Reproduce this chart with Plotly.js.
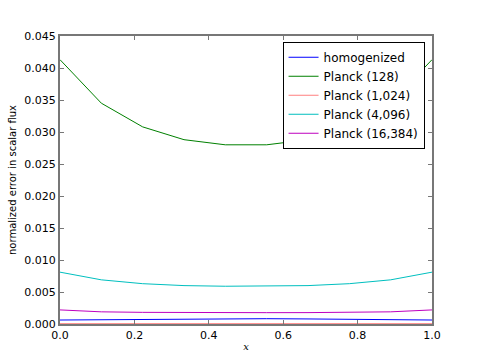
<!DOCTYPE html>
<html>
<head>
<meta charset="utf-8">
<script src="https://cdn.plot.ly/plotly-3.0.1.min.js"></script>
<style>
  html, body { margin: 0; padding: 0; background: #fff; }
  #plot { width: 480px; height: 360px; }
</style>
</head>
<body>
<div id="plot"></div>
<script>
var xs = [0, 0.1111, 0.2222, 0.3333, 0.4444, 0.5556, 0.6667, 0.7778, 0.8889, 1.0];
var homogenized = [0.00062, 0.00068, 0.00074, 0.00079, 0.00083, 0.00083, 0.00079, 0.00074, 0.00068, 0.00062];
var planck128 = [0.0413, 0.0345, 0.0308, 0.0288, 0.0280, 0.0280, 0.0288, 0.0308, 0.0345, 0.0413];
var planck1024 = [0.00005, 0.00004, 0.00004, 0.00004, 0.00004, 0.00004, 0.00004, 0.00004, 0.00004, 0.00005];
var planck4096 = [0.0081, 0.0069, 0.0063, 0.0060, 0.0059, 0.0059, 0.0060, 0.0063, 0.0069, 0.0081];
var planck16384 = [0.0022, 0.0019, 0.00182, 0.00178, 0.00177, 0.00177, 0.00178, 0.00182, 0.0019, 0.0022];

var names = ['homogenized', 'Planck (128)', 'Planck (1,024)', 'Planck (4,096)', 'Planck (16,384)'];
var series = [homogenized, planck128, planck1024, planck4096, planck16384];
var colors = ['#0000ff', '#008000', 'rgba(255,0,0,0.5)', '#00bfbf', '#bf00bf'];

var data = series.map(function(ys, i) {
    return {
        x: xs,
        y: ys,
        type: 'scatter',
        mode: 'lines',
        name: names[i],
        line: {color: colors[i], width: 1}
    };
});

var axisCommon = {
    showgrid: false,
    zeroline: false,
    showline: true,
    linecolor: '#777',
    linewidth: 2,
    mirror: 'ticks',
    ticks: 'inside',
    ticklen: 4,
    tickcolor: '#777',
    tickfont: {family: 'DejaVu Sans', size: 11, color: '#000'}
};

var layout = {
    width: 480,
    height: 360,
    margin: {l: 60, r: 48, t: 36, b: 36},
    paper_bgcolor: '#fff',
    plot_bgcolor: '#fff',
    showlegend: true,
    legend: {
        x: 0.98, y: 0.98, xanchor: 'right', yanchor: 'top',
        bordercolor: '#000', borderwidth: 1, bgcolor: '#fff',
        font: {family: 'DejaVu Sans', size: 12, color: '#000'},
        itemwidth: 30,
        tracegroupgap: 0
    },
    xaxis: Object.assign({}, axisCommon, {
        range: [0, 1],
        tickvals: [0, 0.2, 0.4, 0.6, 0.8, 1.0],
        ticktext: ['0.0', '0.2', '0.4', '0.6', '0.8', '1.0'],
        title: {text: '<i>x</i>', font: {family: 'DejaVu Serif', size: 10, color: '#000'}, standoff: 2}
    }),
    yaxis: Object.assign({}, axisCommon, {
        range: [0, 0.045],
        tickvals: [0, 0.005, 0.01, 0.015, 0.02, 0.025, 0.03, 0.035, 0.04, 0.045],
        ticktext: ['0.000', '0.005', '0.010', '0.015', '0.020', '0.025', '0.030', '0.035', '0.040', '0.045'],
        title: {text: 'normalized error in scalar flux', font: {family: 'DejaVu Sans', size: 10, color: '#000'}, standoff: 6}
    })
};

Plotly.newPlot('plot', data, layout, {staticPlot: true});
</script>
</body>
</html>
